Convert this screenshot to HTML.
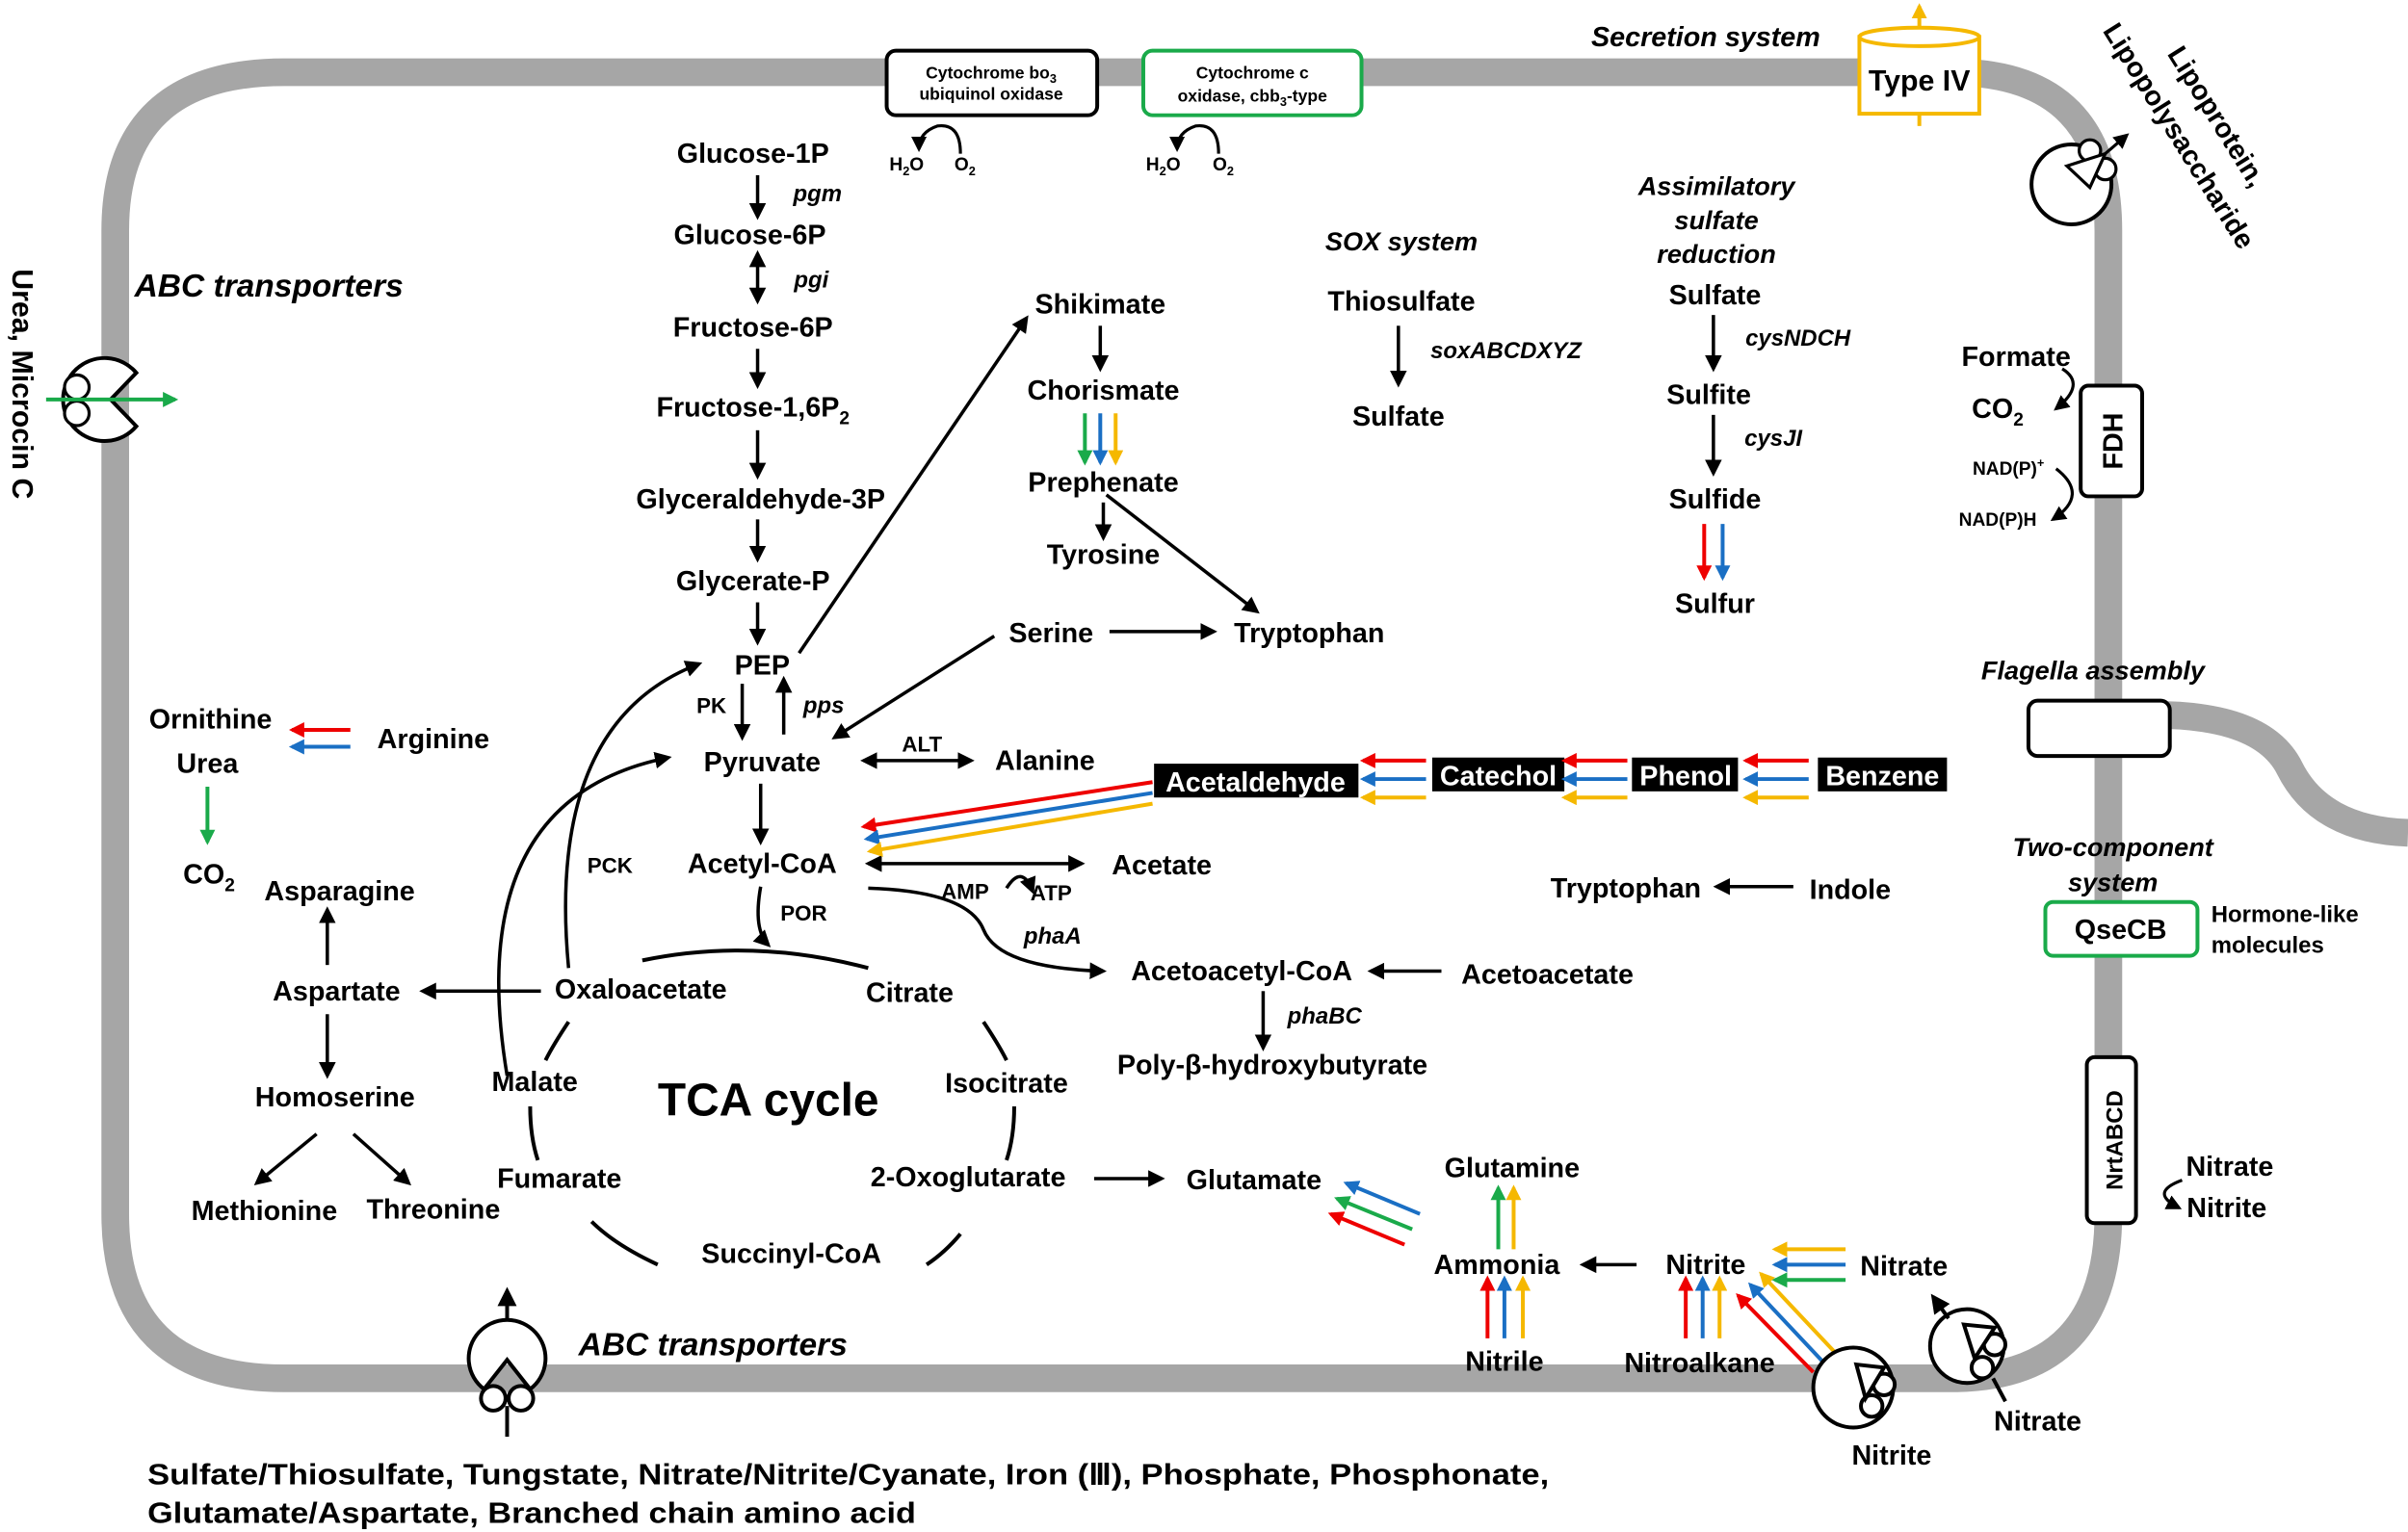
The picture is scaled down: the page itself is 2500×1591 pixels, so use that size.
<!DOCTYPE html>
<html><head><meta charset="utf-8"><style>
html,body{margin:0;padding:0;background:#fff}
svg{display:block}
text{font-family:"Liberation Sans",sans-serif;font-weight:bold;fill:#000}
.t{font-size:18px;text-anchor:middle}
.i{font-style:italic}
</style></head><body>
<svg width="2500" height="1591" viewBox="0 0 1567 997" preserveAspectRatio="none" xmlns="http://www.w3.org/2000/svg">
<defs>
<marker id="a" viewBox="0 0 10 10" refX="8" refY="5" markerWidth="5" markerHeight="5" orient="auto-start-reverse"><path d="M0,0L10,5L0,10z" fill="#000"/></marker>
<marker id="r" viewBox="0 0 10 10" refX="8" refY="5" markerWidth="4" markerHeight="4" orient="auto"><path d="M0,0L10,5L0,10z" fill="#e00"/></marker>
<marker id="b" viewBox="0 0 10 10" refX="8" refY="5" markerWidth="4" markerHeight="4" orient="auto"><path d="M0,0L10,5L0,10z" fill="#1a6fc4"/></marker>
<marker id="g" viewBox="0 0 10 10" refX="8" refY="5" markerWidth="4" markerHeight="4" orient="auto"><path d="M0,0L10,5L0,10z" fill="#1aaa4a"/></marker>
<marker id="y" viewBox="0 0 10 10" refX="8" refY="5" markerWidth="4" markerHeight="4" orient="auto"><path d="M0,0L10,5L0,10z" fill="#f5b800"/></marker>
</defs>
<!-- membrane -->
<path d="M185,47 H1270 Q1372,47 1372,150 V790 Q1372,897 1270,897 H185 Q75,897 75,790 V150 Q75,47 185,47 Z" fill="none" stroke="#a6a6a6" stroke-width="18"/>
<path d="M1380,466 Q1470,460 1490,500 Q1510,540 1567,542" fill="none" stroke="#a6a6a6" stroke-width="18"/>
<!-- top boxes -->
<rect x="577" y="33" width="137" height="42" rx="6" fill="#fff" stroke="#000" stroke-width="2.5"/>
<text x="645" y="51" class="t" style="font-size:11px">Cytochrome bo<tspan font-size="8" dy="3">3</tspan></text>
<text x="645" y="65" class="t" style="font-size:11px">ubiquinol oxidase</text>
<rect x="744" y="33" width="142" height="42" rx="6" fill="#fff" stroke="#1aaa4a" stroke-width="2.5"/>
<text x="815" y="51" class="t" style="font-size:11px">Cytochrome c</text>
<text x="815" y="66" class="t" style="font-size:11px">oxidase, cbb<tspan font-size="8" dy="3">3</tspan><tspan dy="-3">-type</tspan></text>
<path d="M625,100 Q625,80 610,82 Q598,86 598,97" fill="none" stroke="#000" stroke-width="2" marker-end="url(#a)"/>
<path d="M793,100 Q793,80 778,82 Q766,86 766,97" fill="none" stroke="#000" stroke-width="2" marker-end="url(#a)"/>
<text x="590" y="111" class="t" style="font-size:12px">H<tspan font-size="8" dy="3">2</tspan><tspan dy="-3">O</tspan></text>
<text x="628" y="111" class="t" style="font-size:12px">O<tspan font-size="8" dy="3">2</tspan></text>
<text x="757" y="111" class="t" style="font-size:12px">H<tspan font-size="8" dy="3">2</tspan><tspan dy="-3">O</tspan></text>
<text x="796" y="111" class="t" style="font-size:12px">O<tspan font-size="8" dy="3">2</tspan></text>
<!-- Type IV -->
<text x="1110" y="30" class="t i">Secretion system</text>
<rect x="1210" y="24" width="78" height="50" fill="#fff" stroke="#f5b800" stroke-width="2.5"/>
<ellipse cx="1249" cy="24" rx="39" ry="6" fill="#fff" stroke="#f5b800" stroke-width="2.5"/>
<line x1="1249" y1="18" x2="1249" y2="4" stroke="#f5b800" stroke-width="2.5" marker-end="url(#y)"/>
<line x1="1249" y1="74" x2="1249" y2="82" stroke="#f5b800" stroke-width="2.5"/>
<text x="1249" y="59" class="t" style="font-size:19px">Type IV</text>
<text transform="translate(1410,35) rotate(58)" style="font-size:18px">Lipoprotein,</text>
<text transform="translate(1368,20) rotate(58)" style="font-size:18px">Lipopolysaccharide</text>
<circle cx="1348" cy="120" r="26" fill="#fff" stroke="#000" stroke-width="2.5"/>
<circle cx="1360" cy="98" r="7" fill="#fff" stroke="#000" stroke-width="2"/>
<circle cx="1370" cy="110" r="7" fill="#fff" stroke="#000" stroke-width="2"/>
<path d="M1345,108 L1370,100 L1360,122 Z" fill="#fff" stroke="#000" stroke-width="2"/>
<line x1="1370" y1="100" x2="1384" y2="88" stroke="#000" stroke-width="2" marker-end="url(#a)"/>
<!-- left -->
<text transform="translate(8,175) rotate(90)" style="font-size:19px">Urea, Microcin C</text>
<text x="175" y="193" class="t i" style="font-size:21px">ABC transporters</text>
<path d="M88.7,242.6 A27,27 0 1 0 88.7,277.4 L72,260 Z" fill="#fff" stroke="#000" stroke-width="2.5"/>
<circle cx="50" cy="252" r="8" fill="#fff" stroke="#000" stroke-width="2"/>
<circle cx="50" cy="269" r="8" fill="#fff" stroke="#000" stroke-width="2"/>
<line x1="30" y1="260" x2="114" y2="260" stroke="#1aaa4a" stroke-width="2.5" marker-end="url(#g)"/>
<!-- main labels -->
<g class="t">
<text x="490" y="106">Glucose-1P</text>
<text x="488" y="159">Glucose-6P</text>
<text x="490" y="219">Fructose-6P</text>
<text x="490" y="271">Fructose-1,6P<tspan font-size="12" dy="5">2</tspan></text>
<text x="495" y="331">Glyceraldehyde-3P</text>
<text x="490" y="384">Glycerate-P</text>
<text x="496" y="439">PEP</text>
<text x="496" y="502">Pyruvate</text>
<text x="496" y="568">Acetyl-CoA</text>
<text x="716" y="204">Shikimate</text>
<text x="718" y="260">Chorismate</text>
<text x="718" y="320">Prephenate</text>
<text x="718" y="367">Tyrosine</text>
<text x="684" y="418">Serine</text>
<text x="852" y="418">Tryptophan</text>
<text x="680" y="501">Alanine</text>
<text x="756" y="569">Acetate</text>
<text x="808" y="638">Acetoacetyl-CoA</text>
<text x="1007" y="640">Acetoacetate</text>
<text x="828" y="699">Poly-β-hydroxybutyrate</text>
<text x="1058" y="584">Tryptophan</text>
<text x="1204" y="585">Indole</text>
<text x="912" y="202">Thiosulfate</text>
<text x="910" y="277">Sulfate</text>
<text x="1116" y="198">Sulfate</text>
<text x="1112" y="263">Sulfite</text>
<text x="1116" y="331">Sulfide</text>
<text x="1116" y="399">Sulfur</text>
<text x="1312" y="238">Formate</text>
<text x="137" y="474">Ornithine</text>
<text x="282" y="487">Arginine</text>
<text x="135" y="503">Urea</text>
<text x="136" y="575">CO<tspan font-size="12" dy="5">2</tspan></text>
<text x="221" y="586">Asparagine</text>
<text x="219" y="651">Aspartate</text>
<text x="417" y="650">Oxaloacetate</text>
<text x="592" y="652">Citrate</text>
<text x="218" y="720">Homoserine</text>
<text x="348" y="710">Malate</text>
<text x="655" y="711">Isocitrate</text>
<text x="172" y="794">Methionine</text>
<text x="282" y="793">Threonine</text>
<text x="364" y="773">Fumarate</text>
<text x="630" y="772">2-Oxoglutarate</text>
<text x="816" y="774">Glutamate</text>
<text x="515" y="822">Succinyl-CoA</text>
<text x="984" y="766">Glutamine</text>
<text x="974" y="829">Ammonia</text>
<text x="1110" y="829">Nitrite</text>
<text x="1239" y="830">Nitrate</text>
<text x="979" y="892">Nitrile</text>
<text x="1106" y="893">Nitroalkane</text>
<text x="1231" y="953">Nitrite</text>
<text x="1326" y="931">Nitrate</text>
<text x="1451" y="765">Nitrate</text>
<text x="1449" y="792">Nitrite</text>
</g>
<text x="500" y="726" class="t" style="font-size:30px">TCA cycle</text>
<text x="1300" y="272" class="t">CO<tspan font-size="12" dy="5">2</tspan></text>
<text x="1307" y="309" class="t" style="font-size:12px">NAD(P)<tspan font-size="8" dy="-5">+</tspan></text>
<text x="1300" y="342" class="t" style="font-size:12px">NAD(P)H</text>
<rect x="1354" y="251" width="40" height="72" rx="5" fill="#fff" stroke="#000" stroke-width="2.5"/>
<text transform="translate(1381,287) rotate(-90)" class="t">FDH</text>
<path d="M1342,240 Q1358,250 1338,266" fill="none" stroke="#000" stroke-width="2" marker-end="url(#a)"/>
<path d="M1338,305 Q1360,322 1336,338" fill="none" stroke="#000" stroke-width="2" marker-end="url(#a)"/>
<!-- italics labels -->
<g class="t i" style="font-size:15px">
<text x="532" y="131">pgm</text><text x="528" y="187">pgi</text><text x="536" y="464">pps</text>
<text x="980" y="233">soxABCDXYZ</text><text x="1170" y="225">cysNDCH</text><text x="1154" y="290">cysJI</text>
<text x="685" y="614">phaA</text><text x="862" y="666">phaBC</text>
</g>
<g class="t i" style="font-size:17px">
<text x="912" y="163">SOX system</text>
<text x="1117" y="127">Assimilatory</text><text x="1117" y="149">sulfate</text><text x="1117" y="171">reduction</text>
<text x="1362" y="442">Flagella assembly</text>
<text x="1375" y="557">Two-component</text><text x="1375" y="580">system</text>
</g>
<text x="464" y="882" class="t i" style="font-size:21px">ABC transporters</text>
<g class="t" style="font-size:14px">
<text x="463" y="464">PK</text><text x="600" y="489">ALT</text><text x="397" y="568">PCK</text>
<text x="523" y="599">POR</text><text x="628" y="585">AMP</text><text x="684" y="586">ATP</text>
</g>
<text x="1439" y="600" style="font-size:15px">Hormone-like</text>
<text x="1439" y="620" style="font-size:15px">molecules</text>
<rect x="1331" y="587" width="99" height="35" rx="5" fill="#fff" stroke="#1aaa4a" stroke-width="2.5"/>
<text x="1380" y="611" class="t">QseCB</text>
<rect x="1320" y="456" width="92" height="36" rx="6" fill="#fff" stroke="#000" stroke-width="2.5"/>
<rect x="1358" y="688" width="32" height="108" rx="5" fill="#fff" stroke="#000" stroke-width="2.5"/>
<text transform="translate(1381,742) rotate(-90)" class="t" style="font-size:15px">NrtABCD</text>
<path d="M1420,768 Q1398,776 1418,786" fill="none" stroke="#000" stroke-width="2" marker-end="url(#a)"/>
<!-- black label boxes -->
<rect x="751" y="497" width="133" height="22" fill="#000"/><text x="817" y="515" class="t" style="fill:#fff">Acetaldehyde</text>
<rect x="932" y="493" width="86" height="22" fill="#000"/><text x="975" y="511" class="t" style="fill:#fff">Catechol</text>
<rect x="1062" y="493" width="69" height="22" fill="#000"/><text x="1097" y="511" class="t" style="fill:#fff">Phenol</text>
<rect x="1183" y="493" width="84" height="22" fill="#000"/><text x="1225" y="511" class="t" style="fill:#fff">Benzene</text>
<!-- black arrows -->
<g stroke="#000" stroke-width="2.2" fill="none" marker-end="url(#a)">
<line x1="493" y1="114" x2="493" y2="141"/>
<line x1="493" y1="227" x2="493" y2="251"/>
<line x1="493" y1="280" x2="493" y2="310"/>
<line x1="493" y1="338" x2="493" y2="364"/>
<line x1="493" y1="392" x2="493" y2="418"/>
<line x1="483" y1="445" x2="483" y2="480"/>
<line x1="510" y1="478" x2="510" y2="442"/>
<line x1="495" y1="510" x2="495" y2="548"/>
<line x1="520" y1="425" x2="668" y2="207"/>
<line x1="716" y1="212" x2="716" y2="240"/>
<line x1="718" y1="327" x2="718" y2="350"/>
<line x1="720" y1="322" x2="818" y2="398"/>
<line x1="722" y1="411" x2="790" y2="411"/>
<line x1="647" y1="414" x2="543" y2="480"/>
<line x1="910" y1="212" x2="910" y2="250"/>
<line x1="1115" y1="205" x2="1115" y2="240"/>
<line x1="1115" y1="270" x2="1115" y2="308"/>
<line x1="1167" y1="577" x2="1117" y2="577"/>
<line x1="938" y1="632" x2="892" y2="632"/>
<line x1="822" y1="645" x2="822" y2="682"/>
<line x1="352" y1="645" x2="275" y2="645"/>
<line x1="213" y1="628" x2="213" y2="592"/>
<line x1="213" y1="660" x2="213" y2="700"/>
<line x1="206" y1="738" x2="167" y2="770"/>
<line x1="230" y1="738" x2="266" y2="770"/>
<line x1="712" y1="767" x2="756" y2="767"/>
<line x1="1065" y1="823" x2="1030" y2="823"/>
<path d="M370,630 Q355,470 455,432"/>
<path d="M330,700 Q300,520 435,493"/>
<path d="M495,577 Q490,605 500,615"/>
<path d="M565,578 Q630,580 640,605 Q650,630 718,632"/>
<path d="M655,578 Q665,562 672,580"/>
</g>
<g stroke="#000" stroke-width="2.2" fill="none" marker-start="url(#a)" marker-end="url(#a)">
<line x1="493" y1="165" x2="493" y2="196"/>
<line x1="562" y1="495" x2="632" y2="495"/>
<line x1="565" y1="562" x2="704" y2="562"/>
</g>
<!-- TCA circle dashes -->
<g stroke="#000" stroke-width="2.5" fill="none">
<path d="M418,625 Q490,610 565,630"/>
<path d="M370,665 Q360,680 355,690"/>
<path d="M640,665 Q650,680 655,690"/>
<path d="M345,720 Q345,740 350,755"/>
<path d="M660,720 Q660,740 655,755"/>
<path d="M385,795 Q400,810 428,823"/>
<path d="M603,823 Q615,815 625,803"/>
</g>
<!-- colored arrows -->
<g stroke-width="2.5" fill="none">
<line x1="706" y1="269" x2="706" y2="301" stroke="#1aaa4a" marker-end="url(#g)"/>
<line x1="716" y1="269" x2="716" y2="301" stroke="#1a6fc4" marker-end="url(#b)"/>
<line x1="726" y1="269" x2="726" y2="301" stroke="#f5b800" marker-end="url(#y)"/>
<line x1="1109" y1="341" x2="1109" y2="376" stroke="#e00" marker-end="url(#r)"/>
<line x1="1121" y1="341" x2="1121" y2="376" stroke="#1a6fc4" marker-end="url(#b)"/>
<line x1="228" y1="475" x2="190" y2="475" stroke="#e00" marker-end="url(#r)"/>
<line x1="228" y1="486" x2="190" y2="486" stroke="#1a6fc4" marker-end="url(#b)"/>
<line x1="135" y1="512" x2="135" y2="548" stroke="#1aaa4a" marker-end="url(#g)"/>
<line x1="928" y1="495" x2="887" y2="495" stroke="#e00" marker-end="url(#r)"/>
<line x1="928" y1="507" x2="887" y2="507" stroke="#1a6fc4" marker-end="url(#b)"/>
<line x1="928" y1="519" x2="887" y2="519" stroke="#f5b800" marker-end="url(#y)"/>
<line x1="1059" y1="495" x2="1018" y2="495" stroke="#e00" marker-end="url(#r)"/>
<line x1="1059" y1="507" x2="1018" y2="507" stroke="#1a6fc4" marker-end="url(#b)"/>
<line x1="1059" y1="519" x2="1018" y2="519" stroke="#f5b800" marker-end="url(#y)"/>
<line x1="1177" y1="495" x2="1136" y2="495" stroke="#e00" marker-end="url(#r)"/>
<line x1="1177" y1="507" x2="1136" y2="507" stroke="#1a6fc4" marker-end="url(#b)"/>
<line x1="1177" y1="519" x2="1136" y2="519" stroke="#f5b800" marker-end="url(#y)"/>
<line x1="750" y1="509" x2="562" y2="538" stroke="#e00" marker-end="url(#r)"/>
<line x1="750" y1="516" x2="564" y2="546" stroke="#1a6fc4" marker-end="url(#b)"/>
<line x1="750" y1="523" x2="566" y2="554" stroke="#f5b800" marker-end="url(#y)"/>
<line x1="924" y1="790" x2="876" y2="770" stroke="#1a6fc4" marker-end="url(#b)"/>
<line x1="919" y1="800" x2="870" y2="780" stroke="#1aaa4a" marker-end="url(#g)"/>
<line x1="914" y1="810" x2="866" y2="790" stroke="#e00" marker-end="url(#r)"/>
<line x1="975" y1="813" x2="975" y2="773" stroke="#1aaa4a" marker-end="url(#g)"/>
<line x1="985" y1="813" x2="985" y2="773" stroke="#f5b800" marker-end="url(#y)"/>
<line x1="968" y1="871" x2="968" y2="832" stroke="#e00" marker-end="url(#r)"/>
<line x1="979" y1="871" x2="979" y2="832" stroke="#1a6fc4" marker-end="url(#b)"/>
<line x1="991" y1="871" x2="991" y2="832" stroke="#f5b800" marker-end="url(#y)"/>
<line x1="1097" y1="871" x2="1097" y2="832" stroke="#e00" marker-end="url(#r)"/>
<line x1="1108" y1="871" x2="1108" y2="832" stroke="#1a6fc4" marker-end="url(#b)"/>
<line x1="1119" y1="871" x2="1119" y2="832" stroke="#f5b800" marker-end="url(#y)"/>
<line x1="1180" y1="893" x2="1131" y2="843" stroke="#e00" marker-end="url(#r)"/>
<line x1="1187" y1="887" x2="1139" y2="836" stroke="#1a6fc4" marker-end="url(#b)"/>
<line x1="1194" y1="880" x2="1146" y2="829" stroke="#f5b800" marker-end="url(#y)"/>
<line x1="1201" y1="813" x2="1155" y2="813" stroke="#f5b800" marker-end="url(#y)"/>
<line x1="1201" y1="823" x2="1155" y2="823" stroke="#1a6fc4" marker-end="url(#b)"/>
<line x1="1201" y1="833" x2="1155" y2="833" stroke="#1aaa4a" marker-end="url(#g)"/>
</g>
<!-- transporters bottom -->
<g stroke="#000" stroke-width="2.5" fill="#fff">
<line x1="330" y1="860" x2="330" y2="840" marker-end="url(#a)"/>
<line x1="330" y1="915" x2="330" y2="935"/>
<path d="M315,904 A25,25 0 1 1 345,904 L330,885 Z"/>
<circle cx="321" cy="910" r="8"/><circle cx="339" cy="910" r="8"/>
<circle cx="1206" cy="903" r="26"/>
<circle cx="1226" cy="901" r="7"/><circle cx="1218" cy="915" r="7"/>
<path d="M1208,888 L1226,890 L1214,910 Z"/>
<circle cx="1280" cy="876" r="24"/>
<circle cx="1298" cy="875" r="7"/><circle cx="1290" cy="890" r="7"/>
<path d="M1278,862 L1298,864 L1285,884 Z"/>
<line x1="1268" y1="858" x2="1258" y2="844" marker-end="url(#a)"/>
<line x1="1297" y1="897" x2="1305" y2="912"/>
</g>
<text x="96" y="966" style="font-size:19px" textLength="912" lengthAdjust="spacingAndGlyphs">Sulfate/Thiosulfate, Tungstate, Nitrate/Nitrite/Cyanate, Iron (Ⅲ), Phosphate, Phosphonate,</text>
<text x="96" y="991" style="font-size:19px" textLength="500" lengthAdjust="spacingAndGlyphs">Glutamate/Aspartate, Branched chain amino acid</text>
</svg>
</body></html>
